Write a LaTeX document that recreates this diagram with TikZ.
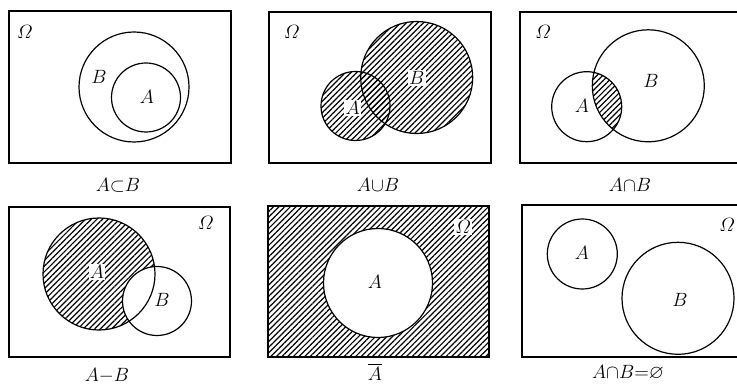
\documentclass[tikz,border=0pt]{standalone}
\usepackage{amsmath,amssymb}
\usetikzlibrary{patterns.meta}

\begin{document}
\begin{tikzpicture}[x=0.75pt,y=-0.75pt,font=\fontsize{14.5}{17}\selectfont]
\tikzstyle{box}=[line width=1pt]
\tikzstyle{ring}=[line width=0.9pt]
\tikzstyle{hatch}=[pattern={Lines[angle=45,distance=3pt,line width=0.9pt]}]
\tikzstyle{lbl}=[inner sep=1pt]
\tikzstyle{caption}=[anchor=base]
\useasboundingbox (0,0) rectangle (737,384);
% A subset B
\draw[box] (9,11) rectangle (231,163);
\draw[ring] (134,87) circle (55); \draw[ring] (146,97.5) circle (34.5);
\node[lbl] (om1) at (25,32) {$\varOmega$}; \node[lbl] (b1) at (99,77) {$B$}; \node[lbl] (a1) at (147,97) {$A$};
\node[caption] (c1) at (118,192) {$A{\subset}B$};
% union
\fill[hatch] (355.5,106) circle (34.5); \fill[hatch] (416.7,77.5) circle (56);
\draw[box] (269,12) rectangle (491,163);
\draw[ring] (355.5,106) circle (34.5); \draw[ring] (416.7,77.5) circle (56);
\node[lbl] (om2) at (292,32) {$\varOmega$}; \node[lbl,fill=white] (a2) at (352.7,108) {$A$}; \node[lbl,fill=white] (b2) at (416.7,78) {$B$};
\node[caption] (c2) at (378,192) {$A{\cup}B$};
% intersection
\begin{scope}
\clip (586.7,106.7) circle (35);
\fill[hatch] (648.3,85.8) circle (56);
\end{scope}
\draw[box] (745,12) -- (520,12) -- (520,163) -- (745,163);
\draw[ring] (586.7,106.7) circle (35); \draw[ring] (648.3,85.8) circle (56);
\node[lbl] (om3) at (543,32) {$\varOmega$}; \node[lbl] (a3) at (582,106) {$A$}; \node[lbl] (b3) at (651,81) {$B$};
\node[caption] (c3) at (630,192) {$A{\cap}B$};
% difference
\fill[hatch] (99,274) circle (56); \fill[white] (157,301) circle (34.5);
\draw[box] (9,207) rectangle (230,357);
\draw[ring] (99,274) circle (56); \draw[ring] (157,301) circle (34.5);
\node[lbl] (om4) at (206,223) {$\varOmega$}; \node[lbl,fill=white] (a4) at (97,272) {$A$}; \node[lbl] (b4) at (162,300) {$B$};
\node[caption] (c4) at (107,381) {$A{-}B$};
% complement
\fill[hatch] (268,206) rectangle (489,357); \fill[white] (378,283) circle (54.5);
\draw[box] (268,206) rectangle (489,357);
\draw[ring] (378,283) circle (54.5);
\node[lbl,fill=white] (om5) at (463,227) {$\varOmega$}; \node[lbl] (a5) at (375,282) {$A$};
\node[caption] (c5) at (375,380) {$\overline{A}$};
% disjoint
\draw[box] (745,205) -- (522,205) -- (522,357) -- (745,357);
\draw[ring] (582.3,254) circle (35); \draw[ring] (678,298.3) circle (56);
\node[lbl] (om6) at (727,225) {$\varOmega$}; \node[lbl] (a6) at (582,253) {$A$}; \node[lbl] (b6) at (680,300) {$B$};
\node[caption] (c6) at (628,378) {$A{\cap}B{=}\varnothing$};
\end{tikzpicture}
\end{document}
